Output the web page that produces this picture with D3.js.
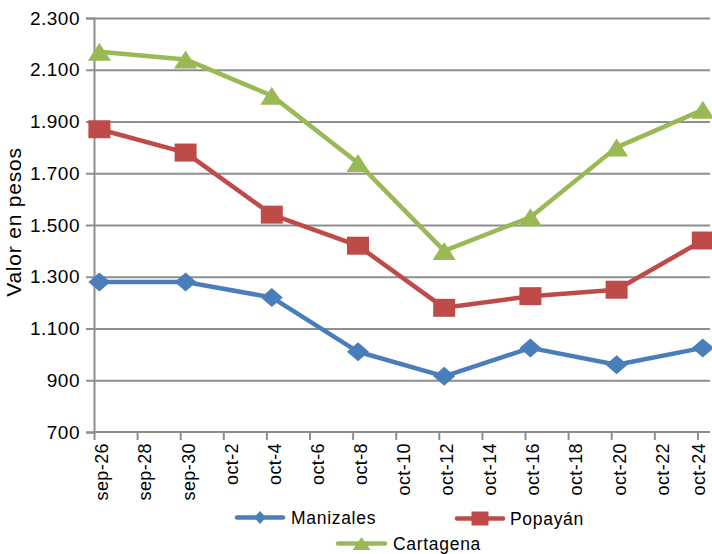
<!DOCTYPE html>
<html><head><meta charset="utf-8">
<script src="https://cdn.jsdelivr.net/npm/d3@7"></script>
<style>
body{margin:0;background:#fff}
svg{display:block}
text{font-family:"Liberation Sans",Arial,sans-serif;fill:#000}
</style>
</head><body>
<svg id="c" width="712" height="554"></svg>
<script>
// ---- data ----
const categories = ["2010-09-26","2010-09-30","2010-10-04","2010-10-08","2010-10-12","2010-10-16","2010-10-20","2010-10-24"];
const manizales = [1280,1280,1220,1010,915,1025,960,1025];
const popayan   = [1870,1780,1540,1420,1180,1225,1250,1440];
const cartagena = [2170,2140,2000,1740,1400,1530,1800,1945];
const seriesNames = ["Manizales","Popayán","Cartagena"];
const xTickDates = ["2010-09-26","2010-09-28","2010-09-30","2010-10-02","2010-10-04","2010-10-06","2010-10-08","2010-10-10","2010-10-12","2010-10-14","2010-10-16","2010-10-18","2010-10-20","2010-10-22","2010-10-24"];
const xTickLabels = ["sep-26","sep-28","sep-30","oct-2","oct-4","oct-6","oct-8","oct-10","oct-12","oct-14","oct-16","oct-18","oct-20","oct-22","oct-24"];
const yTicks = [700,900,1100,1300,1500,1700,1900,2100,2300];
const yTitle = "Valor en pesos";

// ---- layout / style ----
const colors = ["#4A7EBB","#BE4B48","#98B954"];
const shapes = ["diamond","square","triangle"];
const pL = 94, pR = 710, pT = 18, pB = 432;
const gridColor = "#8e8e8e";

const parse = d3.timeParse("%Y-%m-%d");
const svg = d3.select("#c");

const x = d3.scaleTime()
  .domain([parse(xTickDates[0]), d3.timeHour.offset(parse(xTickDates[xTickDates.length-1]), 14)])
  .range([pL, pR]);
const y = d3.scaleLinear().domain([700, 2300]).range([pB, pT]);
const pointX = d => x(d3.timeHour.offset(parse(d), 6));

const loc = d3.formatLocale({decimal: ",", thousands: ".", grouping: [3], currency: ["$",""]});
const fmt = loc.format(",d");

// gridlines
svg.append("g").attr("transform", `translate(${pL},0)`)
  .call(d3.axisLeft(y).tickValues(yTicks.slice(1)).tickSize(-(pR-pL)).tickFormat(""))
  .call(g => g.select(".domain").remove())
  .call(g => g.selectAll("line").attr("stroke", gridColor).attr("stroke-width", 2));

// y axis
const ya = svg.append("g").attr("transform", `translate(${pL},0)`)
  .call(d3.axisLeft(y).tickValues(yTicks).tickSize(8).tickPadding(6).tickFormat(fmt));
ya.select(".domain").attr("stroke", gridColor).attr("stroke-width", 2);
ya.selectAll("line").attr("stroke", gridColor).attr("stroke-width", 2);
ya.selectAll("text").attr("font-size", 19).attr("letter-spacing", "0.5px")
  .attr("font-family", '"Liberation Sans", Arial, sans-serif').attr("fill", "#000");

// x axis
const xa = svg.append("g").attr("transform", `translate(0,${pB})`)
  .call(d3.axisBottom(x).tickValues(xTickDates.map(parse)).tickSize(8).tickFormat(""));
xa.select(".domain").attr("stroke", gridColor).attr("stroke-width", 2)
  .attr("d", `M${pL},0H${pR}`);
xa.selectAll("line").attr("stroke", gridColor).attr("stroke-width", 2);

svg.append("g").selectAll("text").data(xTickDates).join("text")
  .attr("transform", d => `translate(${Math.min(x(parse(d)) + 8, pR - 11)},${pB + 11}) rotate(-90)`)
  .attr("text-anchor", "end").attr("dy", "0.35em")
  .attr("font-size", 18).attr("letter-spacing", "0.4px")
  .text((d, i) => xTickLabels[i]);

// y title
svg.append("text").attr("transform", `translate(21,222) rotate(-90)`)
  .attr("text-anchor", "middle").attr("font-size", 21).attr("letter-spacing", "0.8px")
  .text(yTitle);

// markers
function markerPath(shape, w, h) {
  if (shape === "diamond") return `M0,${-h/2}L${w/2},0L0,${h/2}L${-w/2},0Z`;
  if (shape === "square") return `M${-w/2},${-h/2}H${w/2}V${h/2}H${-w/2}Z`;
  return `M0,${-h/2}L${w/2},${h/2}H${-w/2}Z`;
}
const markerSize = {diamond: [22, 19], square: [22, 18], triangle: [23, 18]};

const allSeries = [manizales, popayan, cartagena];
const line = d3.line().x((d, i) => pointX(categories[i])).y(d => y(d));

allSeries.forEach((vals, s) => {
  const g = svg.append("g");
  g.append("path").datum(vals).attr("d", line)
    .attr("fill", "none").attr("stroke", colors[s]).attr("stroke-width", 4.5)
    .attr("stroke-linejoin", "round");
  const [w, h] = markerSize[shapes[s]];
  g.selectAll("path.m").data(vals).join("path").attr("class", "m")
    .attr("transform", (d, i) => `translate(${pointX(categories[i])},${y(d)})`)
    .attr("d", markerPath(shapes[s], w, h))
    .attr("fill", colors[s]);
});

// legend
const legendItems = [
  {x1: 237, x2: 283, y: 517.5, tx: 291, lw: [12, 13]},
  {x1: 457, x2: 503, y: 518.5, tx: 510, lw: [17, 14]},
  {x1: 338, x2: 385, y: 543.5, tx: 393, lw: [18, 13]}
];
legendItems.forEach((it, s) => {
  const g = svg.append("g");
  g.append("line").attr("x1", it.x1).attr("x2", it.x2).attr("y1", it.y).attr("y2", it.y)
    .attr("stroke", colors[s]).attr("stroke-width", 4.5).attr("stroke-linecap", "round");
  g.append("path").attr("transform", `translate(${(it.x1+it.x2)/2},${it.y})`)
    .attr("d", markerPath(shapes[s], it.lw[0], it.lw[1])).attr("fill", colors[s]);
  g.append("text").attr("x", it.tx).attr("y", it.y).attr("dy", "0.35em")
    .attr("font-size", 17.5).attr("letter-spacing", "0.7px").text(seriesNames[s]);
});
</script>
</body></html>
